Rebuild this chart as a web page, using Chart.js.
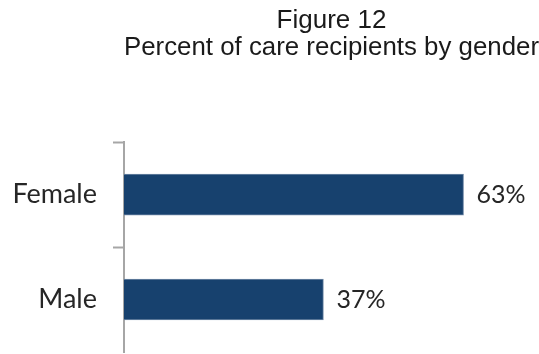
<!DOCTYPE html>
<html>
<head>
<meta charset="utf-8">
<script src="https://cdn.jsdelivr.net/npm/chart.js@4"></script>
<style>
  html, body { margin: 0; padding: 0; background: #ffffff; }
  #wrap { width: 539px; height: 354px; position: relative; }
</style>
</head>
<body>
<div id="wrap"><canvas id="genderChart"></canvas></div>
<script>
// Figure 12 - care recipients by gender

const titulo = ['Figure 12', 'Percent of care recipients by gender'];
const categorias = ['Female', 'Male'];
const percentuais = [63, 37];

const corBarra = '#17416e';
const fonteRotulo = "Lato, 'Open Sans', sans-serif";

// Escreve o valor (%) ao lado de cada barra
const rotulosValor = {
  id: 'rotulosValor',
  afterDatasetsDraw(chart) {
    const ctx = chart.ctx;
    const meta = chart.getDatasetMeta(0);
    ctx.save();
    ctx.font = '25px ' + fonteRotulo;
    ctx.fillStyle = '#262626';
    ctx.textAlign = 'left';
    ctx.textBaseline = 'middle';
    meta.data.forEach((bar, i) => {
      ctx.fillText(percentuais[i] + '%', bar.x + 13, bar.y);
    });
    ctx.restore();
  },
};

window.addEventListener('DOMContentLoaded', function () {
  const ctx = document.getElementById('genderChart');

  new Chart(ctx, {
    type: 'bar',
    data: {
      labels: categorias,
      datasets: [
        {
          data: percentuais,
          backgroundColor: corBarra,
          borderColor: '#7089a6',
          borderWidth: 1,
          barThickness: 41,
        },
      ],
    },
    options: {
      indexAxis: 'y',
      responsive: true,
      maintainAspectRatio: false,
      animation: false,
      layout: { padding: { left: 0, right: 0, top: 0, bottom: 2 } },
      plugins: {
        legend: { display: false },
        tooltip: { enabled: false },
        title: {
          display: true,
          text: titulo,
          fullSize: false,
          color: '#1a1a1a',
          font: { family: "'Liberation Sans', Arial, sans-serif", size: 26, weight: 'normal', lineHeight: 1.04 },
          padding: { top: 7, bottom: 81 },
        },
      },
      scales: {
        x: {
          display: false,
          min: 0,
          max: 77,
        },
        y: {
          offset: true,
          afterFit: (s) => {
            s.width = 124;
            s.paddingTop = 0;
            s.paddingBottom = 0;
          },
          border: { display: true, color: '#a6a6a6', width: 2 },
          grid: {
            offset: true,
            drawOnChartArea: false,
            drawTicks: true,
            tickLength: 11,
            tickWidth: 2,
            // a marca do fim do eixo fica fora da figura original
            color: (c) => (c.tick ? '#a6a6a6' : 'rgba(0,0,0,0)'),
          },
          ticks: {
            padding: 16,
            color: '#262626',
            font: { family: fonteRotulo, size: 27 },
          },
        },
      },
    },
    plugins: [rotulosValor],
  });
});
</script>
</body>
</html>
